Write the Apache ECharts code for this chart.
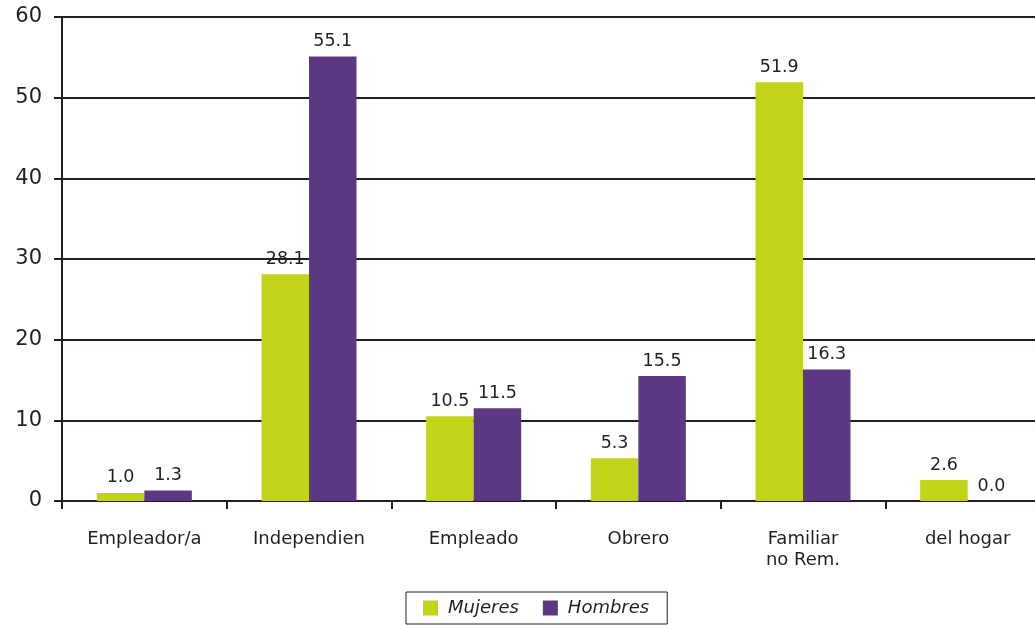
<!DOCTYPE html>
<html><head><meta charset="utf-8">
<script src="https://cdn.jsdelivr.net/npm/echarts@6/dist/echarts.min.js"></script>
<style>html,body{margin:0;padding:0;background:#fff;overflow:hidden;width:1035px;height:625px}#c{width:1050px;height:625px}</style>
</head><body><div id="c"></div>
<script>
const categories = ['Empleador/a', 'Independien', 'Empleado', 'Obrero', 'Familiar\nno Rem.', 'del hogar'];
const mujeres = [1.0, 28.1, 10.5, 5.3, 51.9, 2.6];
const hombres = [1.3, 55.1, 11.5, 15.5, 16.3, 0.0];
const yTicks = [0, 10, 20, 30, 40, 50, 60];

const FONT = '"DejaVu Sans", sans-serif';
const TXT = '#231f20';
const chart = echarts.init(document.getElementById('c'));
const lbl = {show: true, position: 'top', distance: 6, color: TXT, fontSize: 17.5, fontFamily: FONT, formatter: p => p.value.toFixed(1)};
chart.setOption({
  animation: false,
  grid: {left: 62, top: 17, bottom: 124, right: 0, containLabel: false},
  legend: {
    left: 406, bottom: 1, orient: 'horizontal',
    data: ['Mujeres', 'Hombres'],
    itemWidth: 15, itemHeight: 15, itemGap: 24,
    borderColor: '#231f20', borderWidth: 1, borderRadius: 0,
    padding: [7, 18, 7, 17],
    icon: 'rect',
    textStyle: {color: TXT, fontSize: 18, fontFamily: FONT, fontStyle: 'italic', padding: [0, 0, 0, 5]}
  },
  xAxis: {
    type: 'category', data: categories,
    axisLine: {lineStyle: {color: TXT, width: 2}},
    axisTick: {show: true, alignWithLabel: false, length: 8, lineStyle: {color: TXT, width: 2}},
    axisLabel: {color: TXT, fontSize: 18, fontFamily: FONT, margin: 28, lineHeight: 21, interval: 0}
  },
  yAxis: {
    type: 'value', min: 0, max: 60, interval: 10,
    axisLine: {show: true, lineStyle: {color: TXT, width: 2}},
    axisTick: {show: true, length: 8, lineStyle: {color: TXT, width: 2}},
    splitLine: {show: true, lineStyle: {color: TXT, width: 2}},
    axisLabel: {color: TXT, fontSize: 21, fontFamily: FONT, margin: 20,
      formatter: v => yTicks.includes(v) ? String(v) : ''}
  },
  series: [
    {name: 'Mujeres', type: 'bar', data: mujeres, barWidth: 47.5, barGap: '0%', itemStyle: {color: '#c2d419'}, label: lbl},
    {name: 'Hombres', type: 'bar', data: hombres, barWidth: 47.5, barGap: '0%', itemStyle: {color: '#5c3883'}, label: lbl}
  ]
});
</script></body></html>
